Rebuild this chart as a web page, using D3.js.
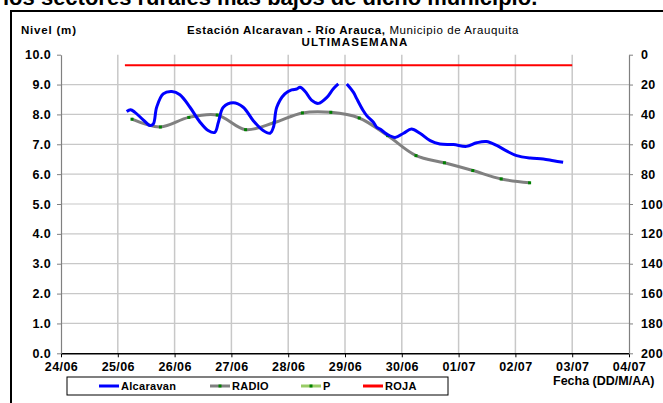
<!DOCTYPE html>
<html>
<head>
<meta charset="utf-8">
<script src="https://cdn.jsdelivr.net/npm/d3@7"></script>
<style>
body { margin: 0; background: #fff; }
text { font-family: Arial, "Liberation Sans", sans-serif; fill: #000; }
</style>
</head>
<body>
<script>
// --- datos ---
var alcaFechas = ["25/06 03:45","25/06 05:25","25/06 07:15","25/06 10:50","25/06 13:35","25/06 15:00",
                  "25/06 16:25","25/06 19:10","25/06 22:50","26/06 02:15","26/06 06:30","26/06 10:45",
                  "26/06 14:10","26/06 17:00","26/06 18:30","26/06 20:35","27/06 00:45","27/06 05:00",
                  "27/06 09:15","27/06 13:25","27/06 16:20","27/06 17:45","27/06 19:10","27/06 22:35",
                  "28/06 01:25","28/06 03:35","28/06 05:00","28/06 07:10","28/06 09:50","28/06 12:45",
                  "28/06 16:20","28/06 19:00","28/06 21:10","28/06 23:00","29/06 00:45","29/06 03:35",
                  "29/06 05:00","29/06 07:40","29/06 09:10","29/06 12:00","29/06 13:25","29/06 14:50",
                  "29/06 17:30","29/06 21:10","30/06 00:45","30/06 04:05","30/06 07:40","30/06 12:00",
                  "30/06 16:05","30/06 21:50","01/07 03:20","01/07 07:40","01/07 11:45","01/07 16:05",
                  "01/07 20:25","02/07 00:30","02/07 06:15","02/07 11:45","02/07 16:05","02/07 20:10"];
var alcaNivel  = [8.10, 8.16, 8.07, 7.81, 7.63, 7.68,
                  8.24, 8.69, 8.77, 8.66, 8.24, 7.74,
                  7.46, 7.40, 7.74, 8.24, 8.39, 8.24,
                  7.79, 7.46, 7.37, 7.57, 8.24, 8.69,
                  8.82, 8.85, 8.91, 8.77, 8.48, 8.37,
                  8.57, 8.85, 9.02, null, 9.02, 8.74,
                  8.52, 8.13, 7.96, 7.74, 7.57, 7.51,
                  7.35, 7.23, 7.37, 7.51, 7.37, 7.12,
                  7.01, 6.99, 6.93, 7.05, 7.09, 6.96,
                  6.77, 6.62, 6.54, 6.51, 6.45, 6.40];

var radioFechas = ["25/06 06:00","25/06 18:00","26/06 06:00","26/06 18:00","27/06 06:00","27/06 18:00",
                   "28/06 06:00","28/06 18:00","29/06 06:00","29/06 18:00","30/06 06:00","30/06 18:00",
                   "01/07 06:00","01/07 18:00","02/07 06:00"];
var radioNivel  = [7.84, 7.58, 7.90, 7.98, 7.49, 7.72, 8.05, 8.07, 7.88, 7.29, 6.62, 6.38, 6.12, 5.84, 5.71];

var pFechas = [];
var pNivel = [];

var rojaFechas = ["25/06 03:00", "03/07 00:00"];
var rojaNivel  = [9.65, 9.65];

var diasTicks = ["24/06","25/06","26/06","27/06","28/06","29/06","30/06","01/07","02/07","03/07","04/07"];
var nivelTicks = [0,1,2,3,4,5,6,7,8,9,10];
var caudalTicks = [0,20,40,60,80,100,120,140,160,180,200];

var titulo = "Estación Alcaravan - Río Arauca,";
var subtituloMun = " Municipio de Arauquita";
var periodo = "ULTIMASEMANA";
var encabezado = "los sectores rurales más bajos de dicho municipio.";

// --- dibujo ---
var width = 663, height = 403;
var parseF = d3.timeParse("%d/%m %H:%M");

var svg = d3.select("body").append("svg")
            .attr("width", width)
            .attr("height", height);

var pLeft = 61, pRight = 629, pTop = 54.7, pBottom = 353.3;

var x = d3.scaleTime()
          .domain([parseF("24/06 00:00"), parseF("04/07 00:00")])
          .range([pLeft, pRight]);
var y = d3.scaleLinear().domain([0, 10]).range([pBottom, pTop]);
var y2 = d3.scaleLinear().domain([0, 200]).range([pTop, pBottom]);

// texto de encabezado (cortado arriba)
svg.append("text")
   .attr("x", 3).attr("y", 5)
   .style("font-size", "22px").style("font-weight", "bold")
   .text(encabezado);

// marco
svg.append("path")
   .attr("d", "M11," + height + "V11H" + width)
   .attr("fill", "none").attr("stroke", "#000").attr("stroke-width", 2);

// rejilla
var grid = svg.append("g");
grid.selectAll("line.h")
    .data(nivelTicks.filter(function(d){ return d > 0 && d < 10; }))
    .enter().append("line")
    .attr("x1", pLeft).attr("x2", pRight)
    .attr("y1", function(d){ return y(d); })
    .attr("y2", function(d){ return y(d); })
    .attr("stroke", "#c8c8c8").attr("stroke-width", 1.2);
grid.selectAll("line.v")
    .data(diasTicks.slice(1, -1))
    .enter().append("line")
    .attr("x1", function(d){ return x(parseF(d + " 00:00")); })
    .attr("x2", function(d){ return x(parseF(d + " 00:00")); })
    .attr("y1", pTop).attr("y2", pBottom)
    .attr("stroke", "#c8c8c8").attr("stroke-width", 1.5);

// ejes
var axX = svg.append("g")
   .attr("transform", "translate(0," + pBottom + ")")
   .call(d3.axisBottom(x)
           .tickValues(diasTicks.map(function(d){ return parseF(d + " 00:00"); }))
           .tickFormat(d3.timeFormat("%d/%m"))
           .tickSizeInner(4).tickSizeOuter(0).tickPadding(3));
axX.select(".domain").attr("stroke", "#000").attr("stroke-width", 1.5);
axX.selectAll("line").attr("stroke", "#000");

var axY = svg.append("g")
   .attr("transform", "translate(" + pLeft + ",0)")
   .call(d3.axisLeft(y).tickValues(nivelTicks)
           .tickFormat(d3.format(".1f"))
           .tickSizeInner(4).tickSizeOuter(0).tickPadding(6));
axY.select(".domain").attr("stroke", "#808080").attr("stroke-width", 1.2);
axY.selectAll("line").attr("stroke", "#808080");

var axY2 = svg.append("g")
   .attr("transform", "translate(" + pRight + ",0)")
   .call(d3.axisRight(y2).tickValues(caudalTicks)
           .tickSizeInner(4).tickSizeOuter(0).tickPadding(8));
axY2.select(".domain").attr("stroke", "#808080").attr("stroke-width", 1.2);
axY2.selectAll("line").attr("stroke", "#808080");

svg.selectAll(".tick text")
   .style("font-family", "Arial, 'Liberation Sans', sans-serif")
   .style("font-size", "12.5px").style("font-weight", "bold")
   .style("letter-spacing", "0.4px")
   .attr("fill", "#000");
axX.selectAll("text").attr("dy", "0.85em");

// series
var linea = d3.line()
    .defined(function(d){ return d.v != null; })
    .x(function(d){ return x(d.t); })
    .y(function(d){ return y(d.v); })
    .curve(d3.curveCatmullRom.alpha(0.5));

function serie(fechas, valores) {
  return fechas.map(function(f, i){ return {t: parseF(f), v: valores[i]}; });
}

svg.append("path")
   .attr("d", linea.curve(d3.curveLinear)(serie(rojaFechas, rojaNivel)))
   .attr("fill", "none").attr("stroke", "#ff0000").attr("stroke-width", 2);

var radio = serie(radioFechas, radioNivel);
svg.append("path")
   .attr("d", linea.curve(d3.curveCatmullRom.alpha(0.5))(radio))
   .attr("fill", "none").attr("stroke", "#808080").attr("stroke-width", 3);
svg.selectAll("rect.radio")
   .data(radio).enter().append("rect")
   .attr("x", function(d){ return x(d.t) - 1.5; })
   .attr("y", function(d){ return y(d.v) - 1.5; })
   .attr("width", 3).attr("height", 3)
   .attr("fill", "#008000");

svg.append("path")
   .attr("d", linea(serie(pFechas, pNivel)) || "")
   .attr("fill", "none").attr("stroke", "#99cc66").attr("stroke-width", 2);

svg.append("path")
   .attr("d", linea(serie(alcaFechas, alcaNivel)))
   .attr("fill", "none").attr("stroke", "#0000ff").attr("stroke-width", 3)
   .attr("stroke-linejoin", "round");

// titulos
svg.append("text")
   .attr("x", 21).attr("y", 34)
   .style("font-size", "11.5px").style("font-weight", "bold")
   .style("letter-spacing", "0.8px")
   .text("Nivel (m)");

var t1 = svg.append("text")
   .attr("x", 353).attr("y", 34)
   .attr("text-anchor", "middle")
   .style("font-size", "11.5px").style("letter-spacing", "0.6px");
t1.append("tspan").style("font-weight", "bold").text(titulo);
t1.append("tspan").text(subtituloMun);

svg.append("text")
   .attr("x", 355).attr("y", 46)
   .attr("text-anchor", "middle")
   .style("font-size", "11.5px").style("font-weight", "bold")
   .style("letter-spacing", "1.2px")
   .text(periodo);

svg.append("text")
   .attr("x", 553).attr("y", 385)
   .style("font-size", "12.5px").style("font-weight", "bold")
   .text("Fecha (DD/M/AA)");

// leyenda
var leyenda = [
  {nombre: "Alcaravan", color: "#0000ff", marca: null, x0: 99},
  {nombre: "RADIO", color: "#808080", marca: "#008000", x0: 210},
  {nombre: "P", color: "#99cc66", marca: "#008000", x0: 301},
  {nombre: "ROJA", color: "#ff0000", marca: null, x0: 363}
];
svg.append("rect")
   .attr("x", 67).attr("y", 377).attr("width", 381).attr("height", 18)
   .attr("fill", "#fff").attr("stroke", "#000").attr("stroke-width", 1);
var lg = svg.selectAll("g.ley").data(leyenda).enter().append("g")
   .attr("transform", function(d){ return "translate(" + d.x0 + ",386)"; });
lg.append("line").attr("x1", 0).attr("x2", 20).attr("y1", 0).attr("y2", 0)
  .attr("stroke", function(d){ return d.color; }).attr("stroke-width", 3);
lg.filter(function(d){ return d.marca; }).append("rect")
  .attr("x", 8.5).attr("y", -1.5).attr("width", 3).attr("height", 3)
  .attr("fill", function(d){ return d.marca; });
lg.append("text").attr("x", 22).attr("y", 4)
  .style("font-size", "11px").style("font-weight", "bold")
  .style("letter-spacing", "0.3px")
  .text(function(d){ return d.nombre; });
</script>
</body>
</html>
